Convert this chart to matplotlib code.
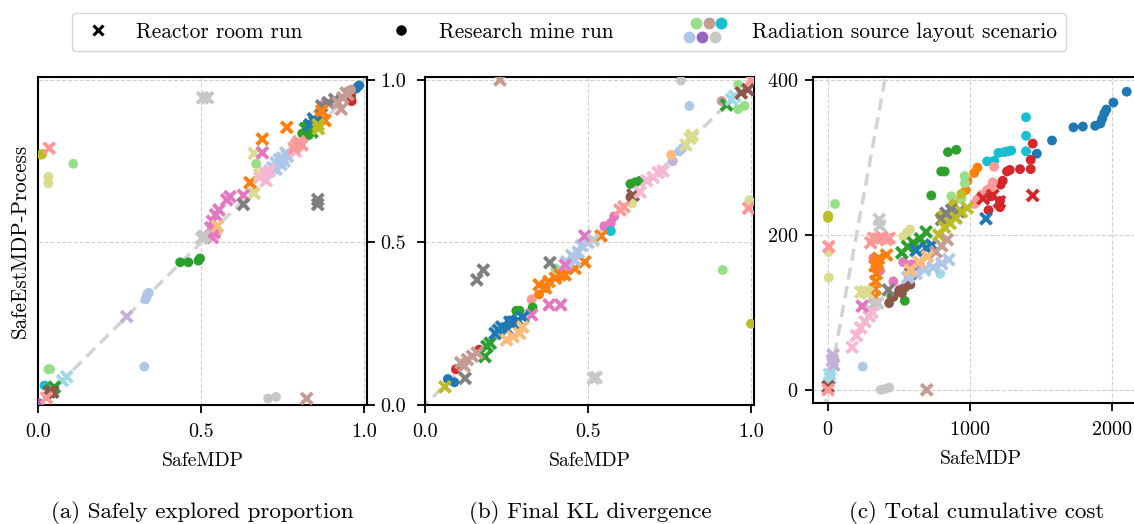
import matplotlib
matplotlib.use("Agg")
import matplotlib.pyplot as plt
import numpy as np
from matplotlib.legend_handler import HandlerBase
from matplotlib.lines import Line2D

plt.rcParams['font.family'] = 'cmr10'
plt.rcParams['mathtext.fontset'] = 'cm'
plt.rcParams['axes.formatter.use_mathtext'] = True
plt.rcParams['font.size'] = 14

# scenario index -> tab20 colour
colors = plt.get_cmap('tab20').colors

# (scenario, SafeMDP, SafeEstMDP-Process)
a_reactor = [
    (15, 0.505, 0.945), (15, 0.52, 0.945), (7, 0.034, 0.79),
    (2, 0.763, 0.854), (2, 0.688, 0.818), (2, 0.650, 0.684), (2, 0.865, 0.89), (2, 0.85, 0.87), (2, 0.88, 0.875),
    (17, 0.663, 0.774), (17, 0.663, 0.651), (17, 0.68, 0.71),
    (12, 0.688, 0.776), (12, 0.589, 0.641), (12, 0.579, 0.631), (12, 0.63, 0.645), (12, 0.555, 0.60),
    (12, 0.545, 0.585), (12, 0.535, 0.565), (12, 0.53, 0.545), (12, 0.54, 0.53), (12, 0.535, 0.515),
    (14, 0.630, 0.617), (14, 0.858, 0.632), (14, 0.858, 0.617), (14, 0.87, 0.92), (14, 0.89, 0.93), (14, 0.91, 0.94),
    (15, 0.502, 0.513), (15, 0.51, 0.52), (9, 0.272, 0.272), (19, 0.088, 0.087), (19, 0.075, 0.075),
    (11, 0.824, 0.02), (4, 0.04, 0.045), (4, 0.05, 0.055), (10, 0.035, 0.04), (10, 0.045, 0.04),
    (1, 0.72, 0.73), (1, 0.73, 0.745), (1, 0.74, 0.755), (1, 0.75, 0.76), (1, 0.76, 0.775), (1, 0.745, 0.74),
    (1, 0.73, 0.725), (1, 0.755, 0.75), (1, 0.765, 0.765),
    (13, 0.696, 0.714), (13, 0.68, 0.70), (13, 0.79, 0.78), (13, 0.71, 0.72), (13, 0.70, 0.69),
    (7, 0.793, 0.80), (7, 0.80, 0.81), (7, 0.785, 0.79), (7, 0.81, 0.80),
    (4, 0.82, 0.85), (4, 0.83, 0.855), (4, 0.84, 0.84), (0, 0.834, 0.862), (0, 0.85, 0.87), (0, 0.845, 0.88),
    (16, 0.859, 0.862), (16, 0.86, 0.85), (2, 0.87, 0.905),
    (11, 0.92, 0.93), (11, 0.935, 0.945), (11, 0.95, 0.955), (11, 0.93, 0.91), (11, 0.945, 0.96), (3, 0.55, 0.55),
    (7, 0.026, 0.022),
]
a_mine = [
    (16, 0.013, 0.772), (16, 0.01, 0.77), (5, 0.108, 0.742), (5, 0.669, 0.742),
    (17, 0.032, 0.702), (17, 0.032, 0.682),
    (4, 0.436, 0.439), (4, 0.461, 0.439), (4, 0.492, 0.444), (4, 0.497, 0.451), (4, 0.82, 0.84), (4, 0.83, 0.83), (4, 0.81, 0.835),
    (1, 0.333, 0.333), (1, 0.335, 0.34), (1, 0.34, 0.345), (1, 0.33, 0.325), (1, 0.326, 0.118),
    (5, 0.032, 0.11), (5, 0.037, 0.11), (15, 0.706, 0.02), (15, 0.73, 0.025),
    (10, 0.03, 0.03), (10, 0.04, 0.04), (10, 0.05, 0.045), (8, 0.0, 0.0), (8, 0.005, 0.005), (18, 0.02, 0.06),
    (0, 0.975, 0.973), (0, 0.98, 0.978), (0, 0.985, 0.983), (0, 0.84, 0.865), (0, 0.86, 0.88),
    (6, 0.96, 0.95), (6, 0.962, 0.935), (1, 0.73, 0.73), (1, 0.75, 0.75), (1, 0.74, 0.745),
    (12, 0.88, 0.93), (3, 0.55, 0.53), (2, 0.87, 0.875), (11, 0.95, 0.965), (11, 0.96, 0.97),
]

b_reactor = [
    (11, 0.230, 1.0), (7, 1.0, 1.0), (7, 0.992, 0.605),
    (14, 0.159, 0.385), (14, 0.179, 0.415), (14, 0.383, 0.438), (14, 0.123, 0.082),
    (12, 0.381, 0.308), (12, 0.416, 0.308), (12, 0.327, 0.277),
    (15, 0.516, 0.082), (15, 0.525, 0.085), (16, 0.061, 0.056),
    (4, 0.184, 0.149), (4, 0.19, 0.18), (4, 0.20, 0.19),
    (11, 0.11, 0.13), (11, 0.13, 0.14), (11, 0.145, 0.15), (11, 0.16, 0.16), (11, 0.12, 0.12),
    (0, 0.215, 0.22), (0, 0.235, 0.24), (0, 0.25, 0.235), (0, 0.27, 0.25), (0, 0.285, 0.26), (0, 0.30, 0.27),
    (0, 0.225, 0.23), (0, 0.26, 0.255),
    (3, 0.25, 0.20), (3, 0.27, 0.21), (3, 0.29, 0.22), (3, 0.30, 0.24),
    (2, 0.35, 0.37), (2, 0.38, 0.38), (2, 0.40, 0.39), (2, 0.43, 0.40), (2, 0.46, 0.42), (2, 0.49, 0.44), (2, 0.54, 0.52),
    (2, 0.37, 0.36), (2, 0.415, 0.40),
    (1, 0.435, 0.44), (1, 0.45, 0.46), (1, 0.47, 0.47), (1, 0.48, 0.49), (1, 0.50, 0.50), (1, 0.46, 0.445),
    (12, 0.49, 0.52), (12, 0.43, 0.43), (15, 0.516, 0.507), (7, 0.598, 0.60), (7, 0.61, 0.61),
    (10, 0.638, 0.646), (13, 0.66, 0.655), (13, 0.68, 0.69), (13, 0.70, 0.70), (13, 0.715, 0.715), (13, 0.73, 0.72),
    (17, 0.813, 0.82), (17, 0.80, 0.80), (17, 0.82, 0.83),
    (4, 0.925, 0.923), (19, 0.94, 0.94), (19, 0.95, 0.95), (10, 0.97, 0.96), (10, 0.99, 0.97),
]
b_mine = [
    (12, 0.55, 0.55), (12, 0.57, 0.56), (12, 0.58, 0.58), (12, 0.56, 0.54),
    (10, 0.63, 0.64), (17, 0.635, 0.62), (4, 0.63, 0.68), (4, 0.645, 0.685), (4, 0.66, 0.69),
    (9, 0.76, 0.75), (3, 0.755, 0.77), (1, 0.78, 0.78), (1, 0.79, 0.79), (1, 0.811, 0.92),
    (15, 0.785, 0.998), (11, 0.91, 0.935), (5, 0.96, 0.91), (5, 0.98, 0.92), (5, 0.96, 0.985),
    (5, 0.913, 0.415), (16, 1.0, 0.25), (17, 0.995, 0.63),
    (7, 0.327, 0.325), (2, 0.35, 0.34), (2, 0.37, 0.36), (4, 0.28, 0.29), (4, 0.33, 0.30), (4, 0.29, 0.29),
    (0, 0.07, 0.08), (0, 0.09, 0.07), (0, 0.26, 0.26), (6, 0.095, 0.11), (6, 0.166, 0.17),
    (11, 0.12, 0.13), (18, 0.57, 0.535), (5, 0.40, 0.42),
]

c_reactor = [
    (7, 5, 185), (7, 300, 190), (7, 320, 196), (7, 350, 195), (7, 380, 197), (7, 410, 194), (7, 430, 196),
    (15, 360, 220), (15, 365, 212),
    (2, 412, 174), (2, 330, 160), (2, 340, 150), (2, 335, 140), (2, 330, 130), (2, 345, 165), (2, 355, 170), (2, 330, 120),
    (17, 230, 126), (17, 260, 127), (17, 280, 125),
    (15, 290, 105), (15, 320, 110), (15, 350, 112),
    (13, 170, 55), (13, 200, 70), (13, 230, 80), (13, 260, 88), (13, 290, 95), (13, 310, 100),
    (9, 35, 45), (9, 30, 38), (9, 40, 32), (19, 10, 20), (19, 15, 15), (10, 0, 4), (7, 0, 0), (11, 695, 0),
    (14, 425, 129), (14, 800, 220), (14, 830, 228), (14, 870, 232), (14, 920, 230), (14, 900, 222), (14, 580, 150),
    (4, 520, 177), (4, 560, 185), (4, 600, 190), (4, 650, 195), (4, 690, 204),
    (0, 620, 180), (0, 690, 183), (0, 730, 187), (0, 1112, 221),
    (16, 780, 200), (16, 820, 210), (16, 860, 215), (16, 900, 222), (16, 940, 230), (16, 980, 235),
    (11, 760, 178), (11, 800, 186), (11, 840, 194),
    (1, 560, 145), (1, 620, 150), (1, 680, 155), (1, 740, 158), (1, 800, 163), (1, 850, 168),
    (3, 580, 155), (3, 640, 165), (3, 700, 172),
    (6, 1092, 247), (6, 1160, 251), (6, 1206, 243), (6, 1441, 251), (12, 240, 108),
]
c_mine = [
    (0, 2103, 385), (0, 2009, 371), (0, 1960, 362), (0, 1945, 357), (0, 1930, 350), (0, 1918, 344),
    (0, 1881, 341), (0, 1794, 340), (0, 1728, 339), (0, 1577, 322), (0, 1470, 305),
    (18, 1394, 352), (18, 1394, 328), (18, 1394, 308), (18, 1290, 309), (18, 1265, 308), (18, 1240, 307),
    (18, 1200, 306), (18, 1170, 296), (18, 1120, 295),
    (6, 1441, 318), (6, 1427, 297), (6, 1427, 285), (6, 1352, 285), (6, 1280, 284), (6, 1260, 282),
    (6, 1230, 270), (6, 1215, 265), (6, 1211, 244), (6, 1211, 236), (6, 1150, 250), (6, 1130, 232),
    (7, 1169, 288), (7, 1160, 268), (7, 1150, 262), (7, 1120, 258), (7, 1080, 252), (7, 1050, 246), (7, 1030, 240),
    (2, 1052, 287), (2, 1029, 280), (2, 982, 270), (2, 970, 258), (2, 935, 247),
    (4, 844, 307), (4, 903, 310), (4, 797, 282), (4, 821, 282), (4, 727, 251), (4, 505, 129), (4, 446, 120), (4, 540, 115),
    (5, 49, 240), (5, 962, 276), (5, 962, 267), (5, 868, 250), (5, 939, 247),
    (16, 0, 225), (16, 0, 222), (16, 939, 253), (16, 880, 240), (16, 790, 225),
    (17, 5, 178), (17, 5, 145), (17, 530, 198), (17, 555, 203), (17, 577, 207),
    (1, 244, 30), (15, 370, 0), (15, 400, 1), (15, 430, 3),
    (12, 530, 165), (12, 590, 162), (12, 650, 160), (12, 319, 170), (12, 366, 154), (12, 460, 140), (12, 508, 130),
    (10, 430, 112), (10, 460, 120), (10, 500, 128), (10, 540, 132), (10, 580, 136), (10, 520, 125),
    (19, 789, 150),
]

legend_cluster = [5, 11, 18, 1, 8, 15]


class Cluster:
    pass


class ClusterHandler(HandlerBase):
    def create_artists(self, legend, orig_handle, xdescent, ydescent, width, height, fontsize, trans):
        pos = [(-0.05, 1.0), (0.35, 1.0), (0.75, 1.0), (-0.25, 0.05), (0.15, 0.05), (0.55, 0.05)]
        arts = []
        for (px, py), c in zip(pos, legend_cluster):
            ln = Line2D([px * width - xdescent], [py * height - ydescent], marker='o', ms=7.5,
                        color=colors[c], linestyle='none', transform=trans)
            arts.append(ln)
        return arts


fig = plt.figure(figsize=(11.34, 5.24), dpi=100)
W, H = 1134, 524
axa = fig.add_axes([38 / W, 1 - 405 / H, 329 / W, 328 / H])
axb = fig.add_axes([425 / W, 1 - 405 / H, 329 / W, 328 / H])
axc = fig.add_axes([813 / W, 1 - 403 / H, 336 / W, 326 / H])


def draw(ax, reactor, mine, lim):
    r = np.array(reactor)
    m = np.array(mine)
    ax.plot(lim, lim, ls=(0, (3.5, 2)), color='#d3d3d3', lw=2.5, zorder=1)
    ax.scatter(m[:, 1], m[:, 2], c=[colors[int(i)] for i in m[:, 0]], marker='o', s=50,
               linewidths=0, zorder=3)
    ax.scatter(r[:, 1], r[:, 2], c=[colors[int(i)] for i in r[:, 0]], marker='x', s=65,
               linewidths=2.8, zorder=4)
    ax.grid(True, ls='--', color='#d0d0d0', lw=0.8, zorder=0)
    ax.set_axisbelow(True)
    for s in ax.spines.values():
        s.set_linewidth(1.5)
    ax.tick_params(direction='out', length=5.8, width=1.3, labelsize=14.5)
    ax.tick_params(axis='x', pad=7)
    ax.set_xlabel('SafeMDP', fontsize=14.2, labelpad=8)


draw(axa, a_reactor, a_mine, [-0.1, 1.1])
axa.set_xlim(0, 1.009)
axa.set_ylim(0, 1.009)
axa.set_xticks([0, 0.5, 1.0])
axa.set_yticks([0, 0.5, 1.0])
axa.set_xticklabels(['0.0', '0.5', '1.0'])
axa.yaxis.tick_right()
axa.set_yticklabels(['0.0', '0.5', '1.0'])
axa.tick_params(axis='y', pad=3.5)
axa.set_ylabel('SafeEstMDP-Process', fontsize=15.2, labelpad=6)

draw(axb, b_reactor, b_mine, [-0.1, 1.1])
axb.set_xlim(0, 1.009)
axb.set_ylim(0, 1.009)
axb.set_xticks([0, 0.5, 1.0])
axb.set_yticks([0, 0.5, 1.0])
axb.set_xticklabels(['0.0', '0.5', '1.0'])
axb.tick_params(axis='y', labelleft=False)

draw(axc, c_reactor, c_mine, [-100, 2500])
axc.set_xlim(-106, 2260)
axc.set_ylim(-17, 404)
axc.set_xticks([0, 1000, 2000])
axc.set_yticks([0, 200, 400])
axc.tick_params(axis='y', pad=5)
axc.spines['right'].set_visible(False)

fig.text(202 / W, 1 - 513 / H, '(a) Safely explored proportion', ha='center', va='center', fontsize=16.6)
fig.text(590 / W, 1 - 513 / H, '(b) Final KL divergence', ha='center', va='center', fontsize=16.6)
fig.text(977 / W, 1 - 513 / H, '(c) Total cumulative cost', ha='center', va='center', fontsize=16.6)

handles = [
    Line2D([], [], marker='x', color='black', ls='none', ms=7, mew=2.2),
    Line2D([], [], marker='o', color='black', ls='none', ms=6.5),
    Cluster(),
]
labels = ['Reactor room run', 'Research mine run', 'Radiation source layout scenario']
fig.legend(handles, labels, handler_map={Cluster: ClusterHandler()}, ncol=3,
           loc='center', bbox_to_anchor=(569 / W, 1 - 32 / H), fontsize=15.4,
           columnspacing=3.9, handlelength=1.5, handletextpad=1.03, frameon=True,
           edgecolor='#cccccc', fancybox=True, borderpad=0.45)

fig.savefig('out.png', dpi=100)
